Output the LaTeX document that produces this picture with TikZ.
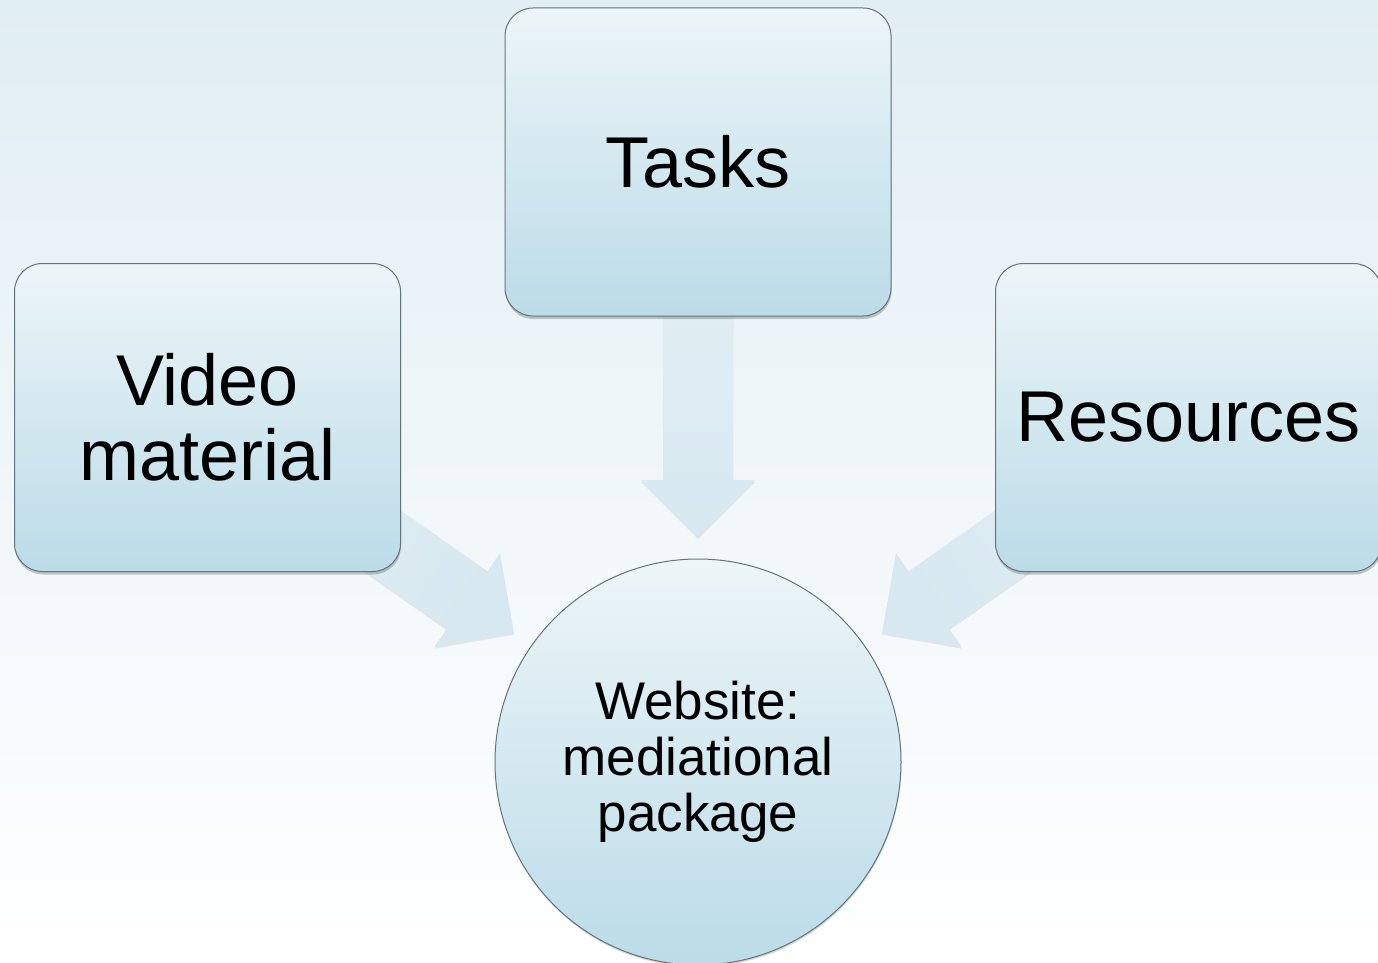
\documentclass[tikz,border=0pt]{standalone}
\usepackage{fontspec}
\setmainfont{Liberation Sans}
\usetikzlibrary{calc,shadows}

\definecolor{bgtop}{HTML}{E1EEF4}
\definecolor{bgbot}{HTML}{FFFFFF}
\definecolor{shapetop}{HTML}{EDF5F8}
\definecolor{shapebot}{HTML}{BBDCE8}
\definecolor{shapeline}{HTML}{65747B}
\definecolor{arrowlight}{HTML}{E6F1F6}
\definecolor{arrowdark}{HTML}{D7E8F0}

\pgfdeclarelayer{bg}
\pgfdeclarelayer{arrows}
\pgfsetlayers{bg,arrows,main}

% block arrow from the centre of #2 towards the centre of #3,
% its tip stopping 225pt short of #3
\newcommand\blockarrow[3][]{%
  \coordinate (ba-t) at ($(#3)!225pt!(#2)$);
  \coordinate (ba-h) at ($(ba-t)!57pt!(#2)$);
  \path[arrowfill,#1]
    ($(#2)!35pt!90:(ba-t)$) --
    ($(ba-h)!35pt!-90:(#2)$) --
    ($(ba-h)!57pt!-90:(#2)$) --
    (ba-t) --
    ($(ba-h)!57pt!90:(#2)$) --
    ($(ba-h)!35pt!90:(#2)$) --
    ($(#2)!35pt!-90:(ba-t)$) -- cycle;
}

\tikzset{
  boxnode/.style={rectangle, rounded corners=28pt, draw=shapeline, line width=1pt,
    top color=shapetop, bottom color=shapebot,
    minimum width=386pt, minimum height=308pt, inner sep=0pt, align=center,
    font=\fontsize{72}{75}\selectfont,
    drop shadow={opacity=0.45, shadow xshift=0.5pt, shadow yshift=-3pt}},
  hubnode/.style={circle, draw=shapeline, line width=1pt,
    top color=shapetop, bottom color=shapebot,
    minimum size=406pt, inner sep=0pt, align=center,
    font=\fontsize{53}{56}\selectfont,
    drop shadow={opacity=0.3, shadow xshift=0.5pt, shadow yshift=-2pt}},
  arrowfill/.style={top color=arrowlight, bottom color=arrowdark,
    drop shadow={opacity=0.15, shadow xshift=0pt, shadow yshift=-2pt}},
}

\begin{document}
\begin{tikzpicture}[x=1pt, y=-1pt]
\useasboundingbox (0,0) rectangle (1378,963);
\begin{pgfonlayer}{bg}
  \path[top color=bgtop, bottom color=bgbot] (0,0) rectangle (1378,963);
\end{pgfonlayer}

\node[boxnode] (tasks) at (698,162) {Tasks};
\node[boxnode] (video) at (207.5,417.5) {Video\\material};
\node[boxnode] (res) at (1188.5,417.5) {Resources};
\node[hubnode] (web) at (698,762) {Website:\\mediational\\package};

\begin{pgfonlayer}{arrows}
  \blockarrow{tasks}{web}
  \blockarrow[shading angle=55]{video}{web}
  \blockarrow[shading angle=-55]{res}{web}
\end{pgfonlayer}
\end{tikzpicture}
\end{document}
